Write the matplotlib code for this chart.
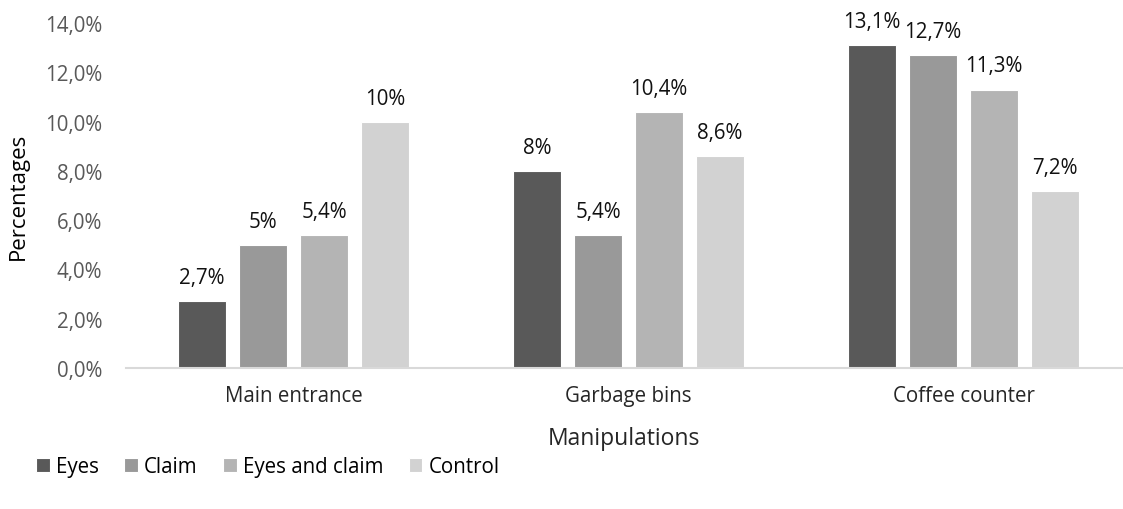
import matplotlib
matplotlib.use("Agg")
import matplotlib.pyplot as plt
import numpy as np
from matplotlib.ticker import FuncFormatter

categories = ["Main entrance", "Garbage bins", "Coffee counter"]
series_names = ["Eyes", "Claim", "Eyes and claim", "Control"]
eyes = [2.7, 8.0, 13.1]
claim = [5.0, 5.4, 12.7]
eyes_claim = [5.4, 10.4, 11.3]
control = [10.0, 8.6, 7.2]
labels_eyes = ["2,7%", "8%", "13,1%"]
labels_claim = ["5%", "5,4%", "12,7%"]
labels_eyes_claim = ["5,4%", "10,4%", "11,3%"]
labels_control = ["10%", "8,6%", "7,2%"]

series = [eyes, claim, eyes_claim, control]
series_labels = [labels_eyes, labels_claim, labels_eyes_claim, labels_control]
colors = ["#595959", "#999999", "#b4b4b4", "#d2d2d2"]

plt.rcParams['font.family'] = ['Open Sans', 'DejaVu Sans']

fig = plt.figure(figsize=(11.23, 5.10), dpi=100)
W, H = 1123, 510
ax = fig.add_axes([126 / W, (510 - 369) / H, (1122 - 126) / W, (369 - 24) / H])

FS = 14.8
x = np.arange(len(categories))
step = 0.182
width = 0.143
for i, (vals, labs, col, name) in enumerate(zip(series, series_labels, colors, series_names)):
    pos = x + (i - 1.5) * step
    bars = ax.bar(pos, vals, width, color=col, edgecolor="white", linewidth=0.8, label=name, zorder=2)
    for b, lab in zip(bars, labs):
        ax.annotate(lab, (b.get_x() + b.get_width() / 2, b.get_height()),
                    xytext=(0, 13), textcoords="offset points",
                    ha="center", va="baseline", fontsize=FS, color="#111111")

ax.set_ylim(0, 14)
ax.set_xlim(-0.5, 2.5 - 9 / 335)
ax.set_yticks(np.arange(0, 15, 2))
ax.yaxis.set_major_formatter(FuncFormatter(lambda v, p: f"{v:.1f}".replace(".", ",") + "%"))
ax.set_xticks(x)
ax.set_xticklabels(categories)
ax.tick_params(axis="y", length=0, pad=17, labelsize=FS, labelcolor="#595959")
ax.tick_params(axis="x", length=0, pad=12, labelsize=FS, labelcolor="#262626")
for s in ["top", "right", "left"]:
    ax.spines[s].set_visible(False)
ax.spines["bottom"].set_color("#d9d9d9")
ax.spines["bottom"].set_linewidth(1.5)

ax.set_xlabel("Manipulations", fontsize=16.5, color="#262626", labelpad=15)
ax.set_ylabel("Percentages", fontsize=16, color="#000000")
ax.yaxis.set_label_coords((29 - 126) / 996, 0.5)

handles, labels = ax.get_legend_handles_labels()
fig.legend(handles, labels, loc="center left", bbox_to_anchor=(28 / W, 1 - 468 / H),
           ncol=4, frameon=False, fontsize=FS, handlelength=0.65, handleheight=0.65,
           handletextpad=0.3, columnspacing=1.25, labelcolor="#000000", borderaxespad=0)

fig.savefig("out.png", dpi=100)
